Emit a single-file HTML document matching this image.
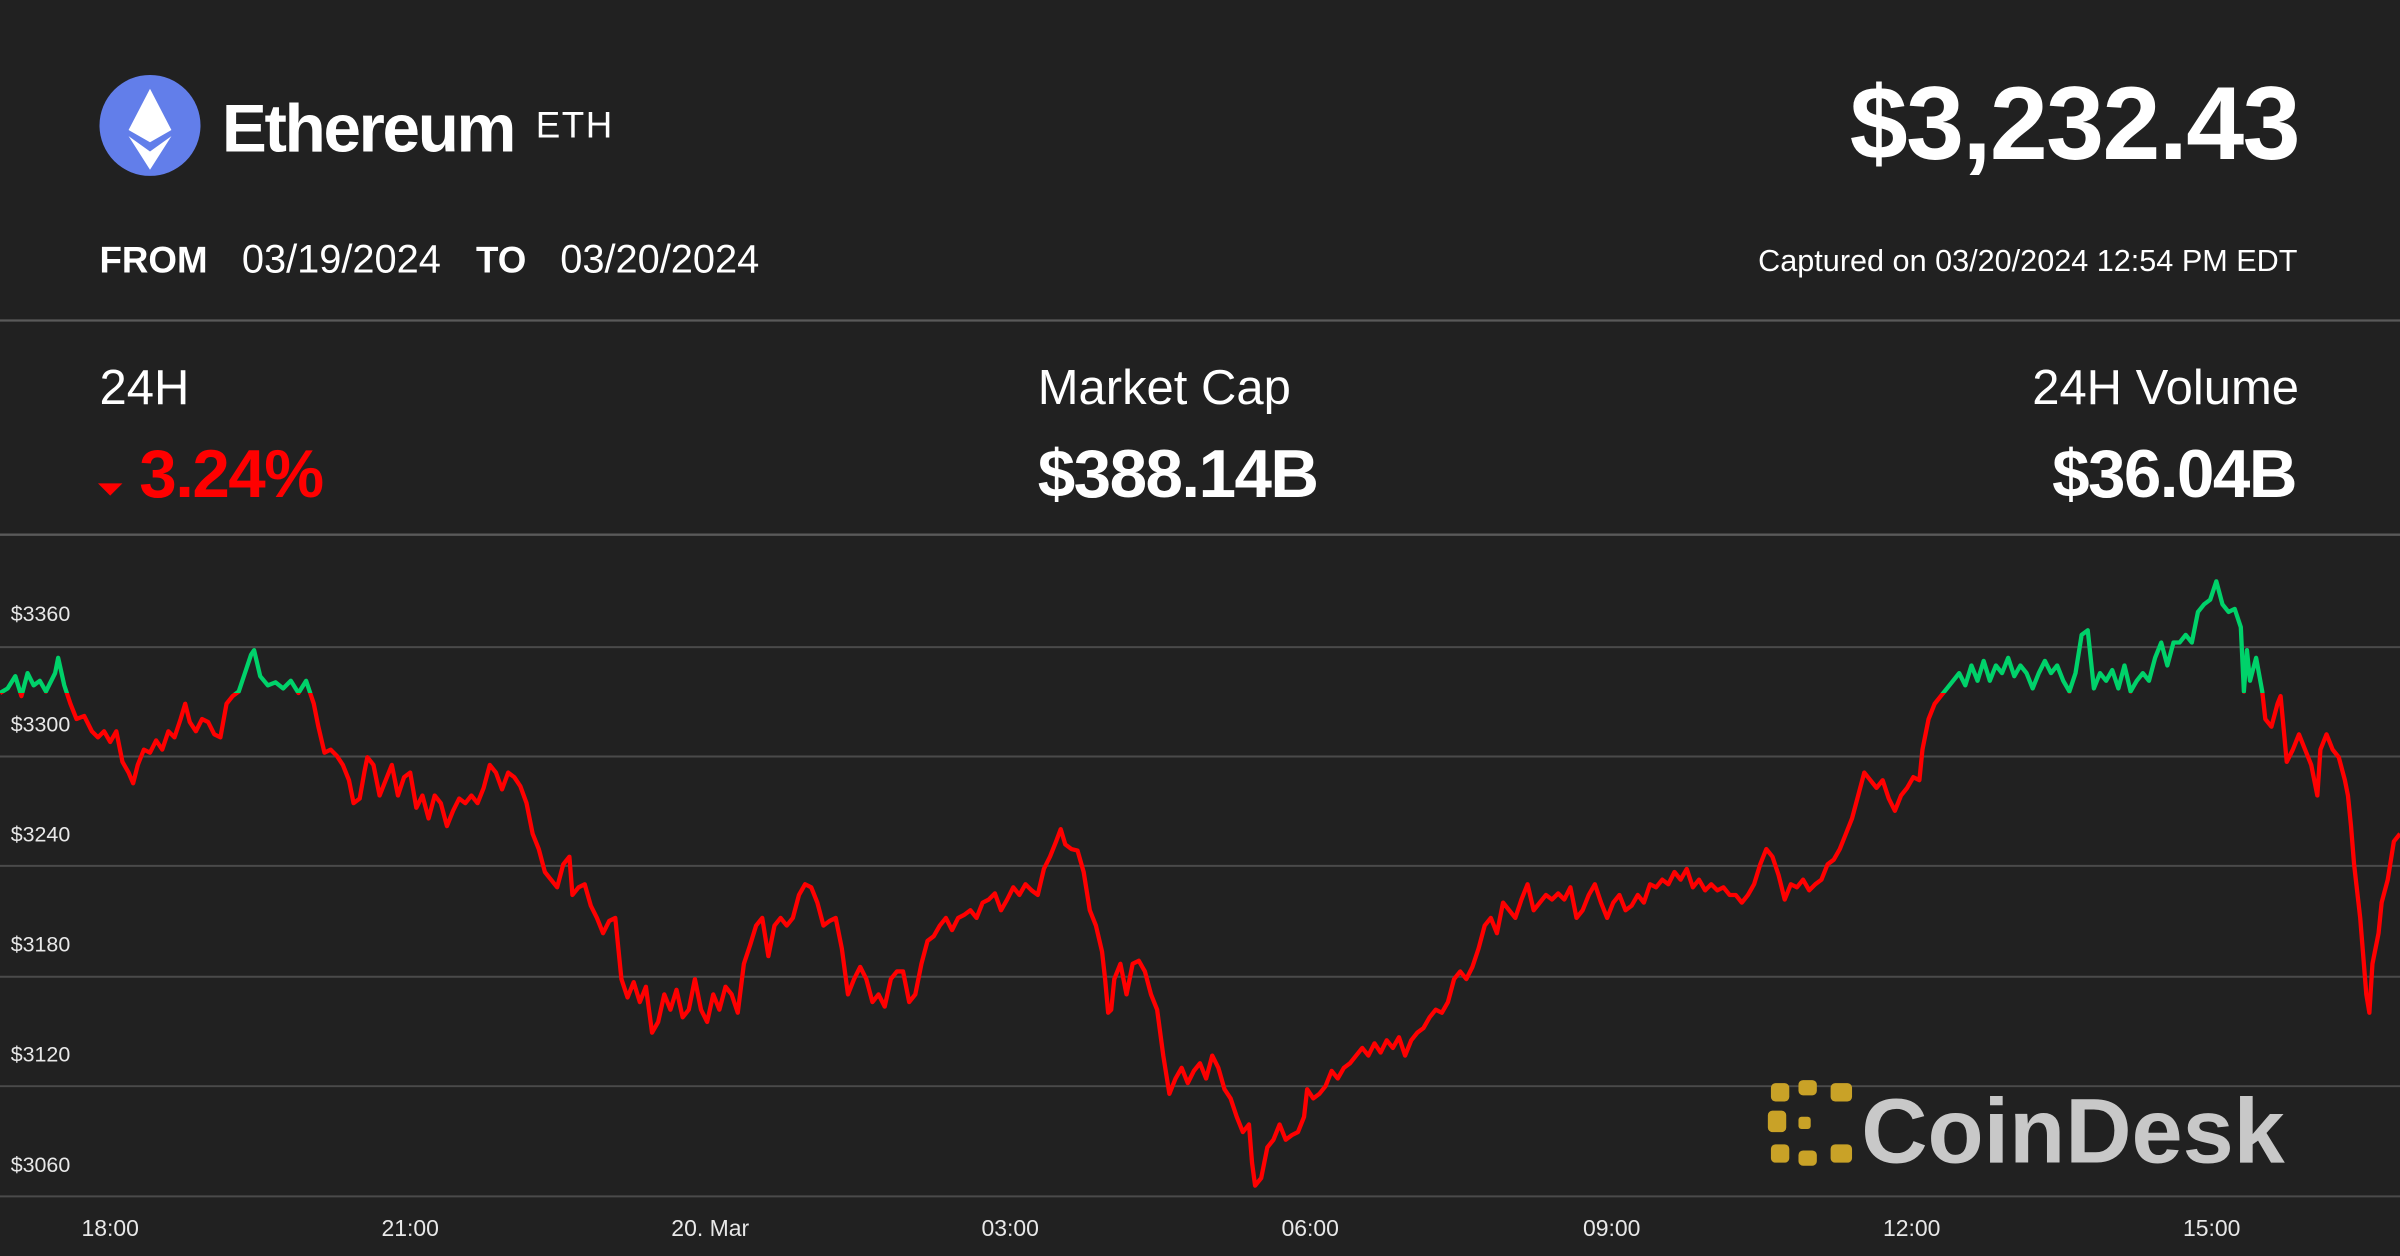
<!DOCTYPE html>
<html><head><meta charset="utf-8"><style>
html,body{margin:0;padding:0;background:#212121;}
svg{display:block}
text{font-family:"Liberation Sans",sans-serif;}
</style></head><body>
<svg width="2400" height="1256" viewBox="0 0 1568 821" preserveAspectRatio="none" xmlns="http://www.w3.org/2000/svg">
<rect width="1568" height="821" fill="#212121"/>
<circle cx="98" cy="82" r="33" fill="#627EEA"/>
<polygon points="98,58 84,85 98,93 112,85" fill="#fff"/>
<polygon points="84,89 98,111 112,89 98,99" fill="#fff"/>
<text x="145" y="99" font-size="44" font-weight="bold" fill="#fff" letter-spacing="-1.5">Ethereum</text>
<text x="350" y="90" font-size="24" fill="#fff" letter-spacing="1">ETH</text>
<text x="1502" y="104" font-size="68" font-weight="bold" fill="#fff" text-anchor="end" letter-spacing="-1">$3,232.43</text>
<text x="65" y="178" font-size="24" font-weight="bold" fill="#fff">FROM</text>
<text x="158" y="178" font-size="26" fill="#fff">03/19/2024</text>
<text x="311" y="178" font-size="24" font-weight="bold" fill="#fff">TO</text>
<text x="366" y="178" font-size="26" fill="#fff">03/20/2024</text>
<text x="1501" y="177" font-size="20" fill="#fff" text-anchor="end">Captured on 03/20/2024 12:54 PM EDT</text>
<line x1="0" y1="209.5" x2="1568" y2="209.5" stroke="#5a5a5a" stroke-width="1.5"/>
<line x1="0" y1="349.5" x2="1568" y2="349.5" stroke="#5a5a5a" stroke-width="1.5"/>
<text x="65" y="264" font-size="32" fill="#fff">24H</text>
<polygon points="64,316 80,316 72,324" fill="#ff0000"/>
<text x="91" y="325" font-size="44" font-weight="bold" fill="#ff0000" letter-spacing="-1">3.24%</text>
<text x="678" y="264" font-size="32" fill="#fff">Market Cap</text>
<text x="678" y="325" font-size="44" font-weight="bold" fill="#fff" letter-spacing="-1">$388.14B</text>
<text x="1502" y="264" font-size="32" fill="#fff" text-anchor="end">24H Volume</text>
<text x="1500" y="325" font-size="44" font-weight="bold" fill="#fff" text-anchor="end" letter-spacing="-1">$36.04B</text>
<g stroke="#4a4a4a" stroke-width="1.3">
<line x1="0" y1="423" x2="1568" y2="423"/><line x1="0" y1="494.5" x2="1568" y2="494.5"/>
<line x1="0" y1="566" x2="1568" y2="566"/><line x1="0" y1="638.5" x2="1568" y2="638.5"/>
<line x1="0" y1="710" x2="1568" y2="710"/><line x1="0" y1="782" x2="1568" y2="782"/>
</g>
<g font-size="14" fill="#e8e8e8">
<text x="7" y="406">$3360</text><text x="7" y="478">$3300</text><text x="7" y="550">$3240</text>
<text x="7" y="622">$3180</text><text x="7" y="694">$3120</text><text x="7" y="766">$3060</text>
</g>
<g font-size="15" fill="#e8e8e8" text-anchor="middle">
<text x="72" y="808">18:00</text><text x="268" y="808">21:00</text><text x="464" y="808">20. Mar</text>
<text x="660" y="808">03:00</text><text x="856" y="808">06:00</text><text x="1053" y="808">09:00</text>
<text x="1249" y="808">12:00</text><text x="1445" y="808">15:00</text>
</g>
<g fill="#c9a227">
<rect x="1157" y="708" width="12" height="12" rx="3"/><rect x="1175" y="706" width="12" height="10" rx="3"/><rect x="1196" y="708" width="14" height="12" rx="3"/>
<rect x="1155" y="726" width="12" height="14" rx="3"/><rect x="1175" y="730" width="8" height="8" rx="2"/>
<rect x="1157" y="748" width="12" height="12" rx="3"/><rect x="1175" y="752" width="12" height="10" rx="3"/><rect x="1196" y="748" width="14" height="12" rx="3"/>
</g>
<text x="1216" y="760" font-size="60" font-weight="bold" fill="#c8c8c8" letter-spacing="0">CoinDesk</text>
<defs>
<clipPath id="up"><rect x="0" y="0" width="1568" height="453"/></clipPath>
<clipPath id="dn"><rect x="0" y="453" width="1568" height="400"/></clipPath>
<polyline id="ln" fill="none" stroke-width="2.8" stroke-linejoin="round" points="0,453 5,450 10,442 14,455 18,440 22,448 26,445 30,452 36,440 38,430 42,448 46,460 50,470 55,468 60,478 64,482 68,478 72,485 76,478 80,498 84,505 87,512 90,500 94,490 98,492 102,484 106,490 110,478 114,482 118,470 121,460 124,472 128,478 132,470 136,472 140,480 144,482 148,460 152,455 156,452 160,440 164,428 166,425 170,442 175,448 180,446 185,450 190,445 195,453 200,445 205,460 208,475 212,492 216,490 220,494 224,500 228,510 231,525 235,522 238,505 240,495 244,500 248,520 252,510 256,500 260,520 264,508 268,505 272,528 276,520 280,535 284,520 288,525 292,540 296,530 300,522 304,525 308,520 312,525 316,515 320,500 324,505 328,516 332,505 336,508 340,514 344,525 348,545 352,555 356,570 360,575 364,580 368,565 372,560 374,585 378,580 382,578 386,592 390,600 394,610 398,602 402,600 406,640 410,652 414,642 418,655 422,645 426,675 430,668 434,650 438,660 442,647 446,665 450,660 454,640 458,660 462,668 466,650 470,660 474,645 478,650 482,662 486,630 490,618 494,605 498,600 502,625 506,605 510,600 514,605 518,600 522,585 526,578 530,580 534,590 538,605 542,602 546,600 550,620 554,650 558,640 562,632 566,640 570,655 574,650 578,658 582,640 586,635 590,635 594,655 598,650 602,630 606,615 610,612 614,605 618,600 622,608 626,600 630,598 634,595 638,600 642,590 646,588 650,584 654,595 658,588 662,580 666,585 670,578 674,582 678,585 682,568 686,560 690,550 693,542 696,552 700,555 704,556 708,570 712,595 716,605 720,622 722,640 724,662 726,660 728,640 732,630 736,650 740,630 744,628 748,635 752,650 756,660 760,690 764,715 768,705 772,698 776,708 780,700 784,695 788,705 792,690 796,698 800,712 804,718 808,730 812,740 816,735 818,760 820,775 824,770 828,750 832,745 836,735 840,745 844,742 848,740 852,730 854,712 858,718 862,715 866,710 870,700 874,705 878,698 882,695 886,690 890,685 894,690 898,682 902,688 906,680 910,685 914,678 918,690 922,680 926,675 930,672 934,665 938,660 942,662 946,655 950,640 954,635 958,640 962,632 966,620 970,605 974,600 978,610 982,590 986,595 990,600 994,588 998,578 1002,595 1006,590 1010,585 1014,588 1018,584 1022,588 1026,580 1030,600 1034,595 1038,585 1042,578 1046,590 1050,600 1054,590 1058,585 1062,595 1066,592 1070,585 1074,590 1078,578 1082,580 1086,575 1090,578 1094,570 1098,575 1102,568 1106,580 1110,575 1114,582 1118,578 1122,582 1126,580 1130,585 1134,585 1138,590 1142,585 1146,578 1150,565 1154,555 1158,560 1162,572 1166,588 1170,578 1174,580 1178,575 1182,582 1186,578 1190,575 1194,565 1198,562 1202,555 1206,545 1210,535 1214,520 1218,505 1222,510 1226,515 1230,510 1234,522 1238,530 1242,520 1246,515 1250,508 1254,510 1256,490 1260,470 1264,460 1268,455 1272,450 1276,445 1280,440 1284,448 1288,435 1292,445 1296,432 1300,445 1304,435 1308,440 1312,430 1316,442 1320,435 1324,440 1328,450 1332,440 1336,432 1340,440 1344,435 1348,445 1352,452 1356,440 1360,415 1364,412 1368,450 1372,440 1376,445 1380,438 1384,450 1388,435 1392,452 1396,445 1400,440 1404,445 1408,430 1412,420 1416,435 1420,420 1424,420 1428,415 1432,420 1436,400 1440,395 1444,392 1448,380 1452,395 1456,400 1460,398 1464,410 1466,452 1468,425 1470,445 1474,430 1478,452 1480,470 1484,475 1488,460 1490,455 1494,498 1498,490 1502,480 1506,490 1510,500 1514,520 1516,490 1520,480 1524,490 1528,495 1532,510 1534,520 1536,540 1538,565 1542,600 1546,650 1548,662 1550,630 1554,610 1556,590 1560,575 1564,550 1568,545"/>
</defs>
<use href="#ln" stroke="#00d26a" clip-path="url(#up)"/>
<use href="#ln" stroke="#ff0000" clip-path="url(#dn)"/>
</svg>
</body></html>
